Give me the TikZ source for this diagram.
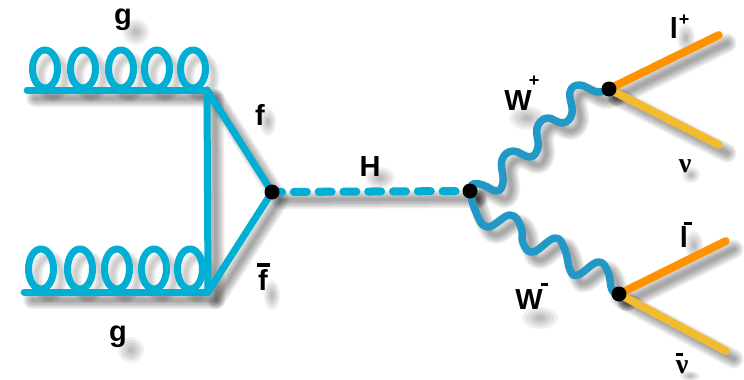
\documentclass[tikz,border=0pt]{standalone}
\usepackage{fontspec}
\setmainfont{Liberation Sans}
\newfontfamily\nufont{Liberation Serif}
\usetikzlibrary{backgrounds}
\definecolor{gluon}{HTML}{00AFD3}
\definecolor{wboson}{HTML}{2298C6}
\definecolor{lepton}{HTML}{FF9200}
\definecolor{neutrino}{HTML}{F2BB30}
\tikzset{
  x=1pt,y=-1pt,
  vertex/.style={circle,fill=black,inner sep=0pt,minimum size=15pt},
  anchorpt/.style={inner sep=0pt,minimum size=0pt},
  qline/.style={draw=gluon,line width=7pt,line cap=round,line join=round},
  wline/.style={draw=wboson,line width=7.5pt,line cap=round,line join=round},
  lline/.style={draw=lepton,line width=8pt,line cap=round},
  nline/.style={draw=neutrino,line width=8pt,line cap=round},
  hline/.style={draw=gluon,line width=8pt,line cap=round,dash pattern=on 13pt off 11.8pt,dash phase=3pt},
  lbl/.style={anchor=base,inner sep=0pt,font=\bfseries\fontsize{29}{30}\selectfont},
  sup/.style={anchor=center,inner sep=0pt,font=\bfseries\fontsize{18}{18}\selectfont},
  nulbl/.style={anchor=base,inner sep=0pt,font=\bfseries\nufont\fontsize{28}{30}\selectfont},
  shadowlayer/.style={transform canvas={xshift=8pt,yshift=-8pt},black,opacity=.065,line cap=round,line join=round},
}
% soft shadow of a stroke: #1 = path, #2 = base width
\newcommand{\softshadow}[2]{%
  \foreach \wd in {1,4,7,10,13,16}{%
    \draw[shadowlayer,line width={#2+\wd pt-5pt}] #1;}}
% soft shadow blob behind a label
\newcommand{\blob}[4]{%
  \foreach \f in {1,.8,.6,.4,.25}{%
    \fill[black,opacity=.055] (#1,#2) ellipse [x radius=\f*#3,y radius=\f*#4];}}
\newcommand{\barbit}[4]{\fill[black] (#1,#2) rectangle (#3,#4);}
\begin{document}
\begin{tikzpicture}
\useasboundingbox (0,0) rectangle (744,380);

% vertices and ends
\node[vertex] (qq) at (272,192) {};
\node[vertex] (hw) at (470,191) {};
\node[vertex] (wp) at (609,89) {};
\node[vertex] (wm) at (619,294) {};
\node[anchorpt] (ta) at (207,90) {};
\node[anchorpt] (ba) at (208,292) {};
\node[anchorpt] (tl) at (27,90) {};
\node[anchorpt] (bl) at (24,292) {};
\node[anchorpt] (lp) at (719,35) {};
\node[anchorpt] (nu) at (719,145) {};
\node[anchorpt] (lm) at (726,241) {};
\node[anchorpt] (nb) at (726,351) {};

\begin{pgfonlayer}{background}
  \fill[white] (0,0) rectangle (744,380);
  % shadows
  \softshadow{(tl.center) -- (ta.center) -- (ba.center) -- (bl.center)}{7pt}
  \softshadow{(ta.center) -- (qq.center) -- (ba.center)}{7pt}
  \softshadow{(qq.center) -- (hw.center)}{7pt}
  \softshadow{(wp.center) -- (lp.center)}{8pt}
  \softshadow{(wp.center) -- (nu.center)}{8pt}
  \softshadow{(wm.center) -- (lm.center)}{8pt}
  \softshadow{(wm.center) -- (nb.center)}{8pt}
  \softshadow{plot[smooth,tension=.7] coordinates {(hw.center) (473,184) (483,185) (497,191) (503,182) (502,160) (513,151) (530,157) (538,147) (537,128) (547,118) (563,123) (572,113) (570,92) (580,85) (597,92) (wp.center)}}{7pt}
  \softshadow{plot[smooth,tension=.7] coordinates {(hw.center) (475,210) (487,227) (510,215) (521,227) (523,243) (533,252) (555,238) (565,250) (570,270) (578,275) (598,262) (608,272) (612,290) (wm.center)}}{7pt}
  \foreach \cx in {45,83,121,157,193}{\foreach \wd in {2,6,10}{\draw[shadowlayer,line width={2pt+\wd pt}] (\cx,69) ellipse [x radius=12.5,y radius=19];}}
  \foreach \cx in {41,80,117,154,190}{\foreach \wd in {2,6,10}{\draw[shadowlayer,line width={2pt+\wd pt}] (\cx,269) ellipse [x radius=12.5,y radius=20];}}
  \blob{136}{32}{13}{13}
  \blob{268}{122}{8}{14}
  \blob{380}{178}{15}{11}
  \blob{272}{295}{8}{15}
  \blob{131}{350}{13}{13}
  \blob{527}{118}{18}{12}
  \blob{686}{38}{9}{14}
  \blob{691}{175}{9}{8}
  \blob{694}{245}{9}{14}
  \blob{540}{318}{18}{11}
  \blob{690}{376}{10}{5}

  % gluons
  \foreach \cx in {45,83,121,157,193}{\draw[qline] (\cx,69) ellipse [x radius=12.5,y radius=19];}
  \foreach \cx in {41,80,117,154,190}{\draw[qline] (\cx,269) ellipse [x radius=12.5,y radius=20];}
  \draw[qline] (tl) -- (ta.center);
  \draw[qline] (bl) -- (ba.center);
  % fermion triangle
  \draw[qline] (ta.center) -- (ba.center);
  \draw[qline] (ta.center) -- (qq.center);
  \draw[qline] (ba.center) -- (qq.center);
  % Higgs
  \draw[hline] (qq.center) -- (hw.center);
  % W bosons
  \draw[wline] plot[smooth,tension=.7] coordinates {(hw.center) (473,184) (483,185) (497,191) (503,182) (502,160) (513,151) (530,157) (538,147) (537,128) (547,118) (563,123) (572,113) (570,92) (580,85) (597,92) (wp.center)};
  \draw[wline] plot[smooth,tension=.7] coordinates {(hw.center) (475,210) (487,227) (510,215) (521,227) (523,243) (533,252) (555,238) (565,250) (570,270) (578,275) (598,262) (608,272) (612,290) (wm.center)};
  % leptons
  \draw[lline] (wp.center) -- (lp);
  \draw[nline] (wp.center) -- (nu);
  \draw[lline] (wm.center) -- (lm);
  \draw[nline] (wm.center) -- (nb);
\end{pgfonlayer}

% labels
\node[lbl] (g1) at (123,24) {g};
\node[lbl] (f1) at (260,125) {f};
\node[lbl] (h1) at (370,176) {H};
\node[lbl] (f2) at (263,290) {f};
\barbit{257}{263}{270}{266.5}
\node[lbl] (g2) at (118,341) {g};
\node[lbl] (wplus) at (518,110) {W};
\node[sup] (wplusup) at (534,81) {+};
\node[lbl] (lplus) at (674,38) {l};
\node[sup] (lplusup) at (684,20) {+};
\node[nulbl] (nu1) at (685,172) {ν};
\node[lbl] (lminus) at (684,247) {l};
\barbit{684}{222}{692}{225}
\node[lbl] (wminus) at (529,309) {W};
\barbit{541}{283}{548}{286}
\node[nulbl] (nu2) at (682,373) {ν};
\barbit{676}{353}{683}{356}
\end{tikzpicture}
\end{document}
